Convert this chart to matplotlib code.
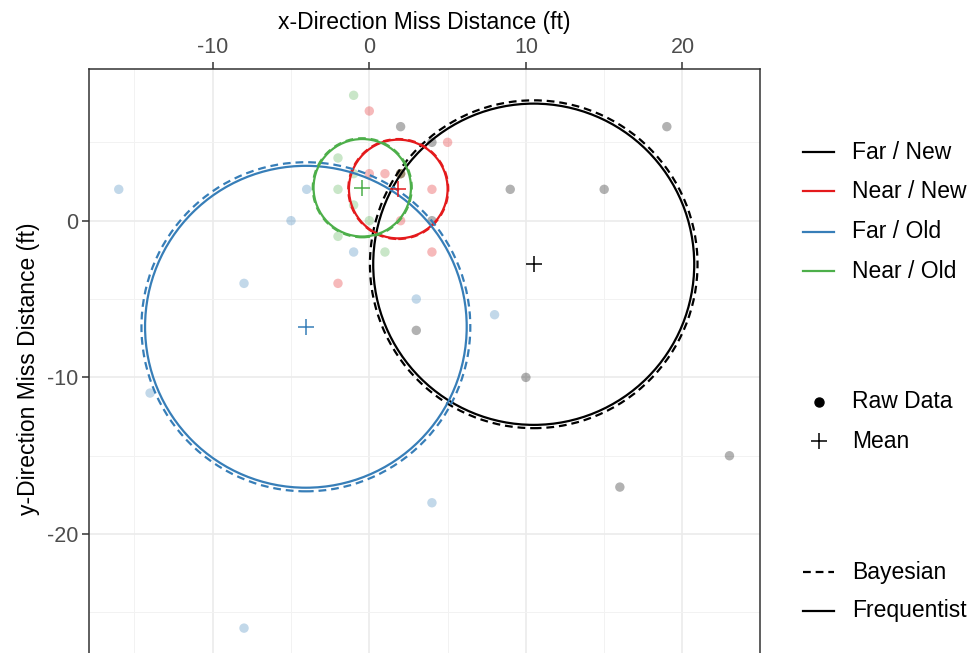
import matplotlib
matplotlib.use("Agg")
import matplotlib.pyplot as plt
from matplotlib.patches import Circle
from matplotlib.lines import Line2D
import numpy as np

plt.rcParams['font.family'] = ['Liberation Sans', 'DejaVu Sans']
plt.rcParams['axes.unicode_minus'] = False

# ---- data ----
groups = ["Far / New", "Near / New", "Far / Old", "Near / Old"]
colors = ["#000000", "#E41A1C", "#377EB8", "#4DAF4A"]

far_new_x = [2, 2, 4, 19, 9, 15, 4, 3, 10, 16, 23]
far_new_y = [6, 3, 5, 6, 2, 2, 0, -7, -10, -17, -15]
near_new_x = [0, 0, 1, 2, 4, 2, 4, -2, 5]
near_new_y = [7, 3, 3, 3, 2, 0, -2, -4, 5]
far_old_x = [-16, -4, -5, -1, -8, 3, 8, -14, 4, -8]
far_old_y = [2, 2, 0, -2, -4, -5, -6, -11, -18, -26]
near_old_x = [-1, -2, -2, -1, 0, -2, 1, 2, -1]
near_old_y = [8, 4, 2, 1, 0, -1, -2, 3, 3]

raw_x = [far_new_x, near_new_x, far_old_x, near_old_x]
raw_y = [far_new_y, near_new_y, far_old_y, near_old_y]

mean_x = [10.5, 1.85, -4.05, -0.45]
mean_y = [-2.78, 2.02, -6.77, 2.1]

radius_freq = [10.25, 3.15, 10.27, 3.11]
radius_bayes = [10.46, 3.19, 10.5, 3.16]

x_ticks = [-10, 0, 10, 20]
y_ticks = [-20, -10, 0]

# ---- figure ----
W, H = 971, 653
fig = plt.figure(figsize=(W / 100, H / 100), dpi=100)

px_left, px_right, px_top, px_bottom = 89, 760, 69.3, 667.3
ax = fig.add_axes([px_left / W, 1 - px_bottom / H,
                   (px_right - px_left) / W, (px_bottom - px_top) / H])
ax.set_xlim(-17.9, 24.95)
ax.set_ylim(-28.5, 9.66)

ax.set_xticks(x_ticks)
ax.set_yticks(y_ticks)
ax.set_xticks([-15, -5, 5, 15], minor=True)
ax.set_yticks([-25, -15, -5, 5], minor=True)
ax.grid(which="major", color="#EBEBEB", lw=1.2, zorder=0)
ax.grid(which="minor", color="#F2F2F2", lw=0.7, zorder=0)
ax.set_axisbelow(True)

ax.xaxis.tick_top()
ax.xaxis.set_label_position("top")
ax.tick_params(axis="both", which="major", length=5, width=1.1, color="#333333",
               labelsize=15.5, labelcolor="#4D4D4D", pad=3)
ax.tick_params(axis="both", which="minor", length=0)
ax.tick_params(axis="x", top=True, bottom=False, labeltop=True, labelbottom=False)
for s in ax.spines.values():
    s.set_color("#333333")
    s.set_linewidth(1.1)
ax.spines["bottom"].set_visible(False)

ax.set_xlabel("x-Direction Miss Distance (ft)", fontsize=16.5, labelpad=6)
ax.set_ylabel("y-Direction Miss Distance (ft)", fontsize=16.5, labelpad=5)

# raw points
for xs, ys, c in zip(raw_x, raw_y, colors):
    ax.scatter(xs, ys, s=46, color=c, alpha=0.3, edgecolors="none", zorder=2)

# circles
for mx, my, rf, rb, c in zip(mean_x, mean_y, radius_freq, radius_bayes, colors):
    ax.add_patch(Circle((mx, my), rb, fill=False, edgecolor=c, lw=1.6,
                        linestyle=(0, (3.5, 2.2)), zorder=3))
    ax.add_patch(Circle((mx, my), rf, fill=False, edgecolor=c, lw=1.6, zorder=3))

# means
for mx, my, c in zip(mean_x, mean_y, colors):
    ax.plot(mx, my, marker="+", ms=11, mew=1.1, color=c, ls="none", zorder=4)

# ---- legend (manual) ----
def fx(px):
    return px / W

def fy(py):
    return 1 - py / H

key_x0, key_x1, text_x = 803, 834, 852
leg_fs = 16.5

for g, c, py in zip(groups, colors, [152, 191, 232, 271]):
    fig.add_artist(Line2D([fx(key_x0), fx(key_x1)], [fy(py), fy(py)],
                          color=c, lw=1.6, transform=fig.transFigure))
    fig.text(fx(text_x), fy(py), g, fontsize=leg_fs, va="center", ha="left")

fig.add_artist(Line2D([fx(818.5)], [fy(402)], marker="o", ms=6.5, color="black",
                      ls="none", transform=fig.transFigure))
fig.text(fx(text_x), fy(402), "Raw Data", fontsize=leg_fs, va="center", ha="left")
fig.add_artist(Line2D([fx(818.5)], [fy(441)], marker="+", ms=11, mew=1.1,
                      color="black", ls="none", transform=fig.transFigure))
fig.text(fx(text_x), fy(441), "Mean", fontsize=leg_fs, va="center", ha="left")

fig.add_artist(Line2D([fx(key_x0), fx(key_x1)], [fy(572), fy(572)], color="black",
                      lw=1.6, linestyle=(0, (3.5, 2.2)), transform=fig.transFigure))
fig.text(fx(text_x), fy(572), "Bayesian", fontsize=leg_fs, va="center", ha="left")
fig.add_artist(Line2D([fx(key_x0), fx(key_x1)], [fy(611), fy(611)], color="black",
                      lw=1.6, transform=fig.transFigure))
fig.text(fx(text_x), fy(611), "Frequentist", fontsize=leg_fs, va="center", ha="left")

fig.savefig("out.png", dpi=100)
